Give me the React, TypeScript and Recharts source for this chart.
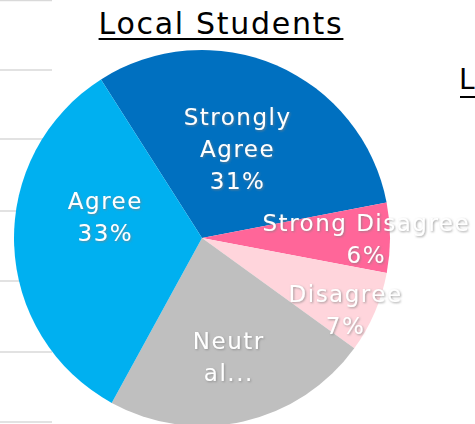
import { PieChart, Pie, Cell } from 'recharts'

const categories = ['Strongly Agree', 'Strong Disagree', 'Disagree', 'Neutral', 'Agree']
const shares = [31, 6, 7, 23, 33]
const labelLines = [['Strongly', 'Agree'], ['Strong Disagree'], ['Disagree'], ['Neutr', 'al...'], ['Agree']]
const showPct = [true, true, true, false, true]
const colors = ['#0070C0', '#FF6699', '#FFD5DC', '#BFBFBF', '#00B0F0']

const data = categories.map((name, i) => ({ name, value: shares[i] }))

// where the labels sit: fraction of radius, nudge in degrees
const labelSpots = [[0.51, 2], [0.87, -0.5], [0.85, -3.4], [0.65, -0.4], [0.53, -14]]

// stray pieces of the neighbouring charts
const gridYs = [0.5, 70, 139, 211, 281, 352, 422]

const FONT = '"DejaVu Sans", sans-serif'

const renderLabel = (p: any) => {
  const i = p.index
  const [frac, nudge] = labelSpots[i]
  const a = ((p.midAngle + nudge) * Math.PI) / 180
  const r = p.outerRadius * frac
  const x = p.cx + r * Math.cos(a) + 0.8
  const y = p.cy - r * Math.sin(a)
  const lines = showPct[i] ? [...labelLines[i], `${shares[i]}%`] : labelLines[i]
  const top = y - (lines.length - 1) * 16
  return (
    <text x={x} y={top} textAnchor="middle" fill="#fff" fontSize={23} letterSpacing={1.5} fontFamily={FONT} filter="url(#lblShadow)">
      {lines.map((l, k) => (
        <tspan key={k} x={x} y={top + k * 32} dominantBaseline="central">{l}</tspan>
      ))}
    </text>
  )
}

export default function App() {
  return (
    <div style={{ position: 'fixed', left: 0, top: 0, width: 475, height: 424, overflow: 'hidden', background: '#fff' }}>
      <svg width={475} height={424} style={{ position: 'absolute', left: 0, top: 0 }}>
        <defs>
          <filter id="lblShadow" x="-20%" y="-40%" width="140%" height="180%">
            <feDropShadow dx="1" dy="1" stdDeviation="1.2" floodColor="#7f7f7f" floodOpacity="0.7" />
          </filter>
        </defs>
        {gridYs.map(y => (
          <line key={y} x1={0} x2={52} y1={y} y2={y} stroke="#D9D9D9" strokeWidth={1.5} />
        ))}
        <circle cx={664} cy={311} r={188} fill="#00B0F0" />
        <line x1={460} x2={475} y1={97} y2={97} stroke="#000" strokeWidth={2} />
      </svg>
      <div style={{ position: 'absolute', left: 0, top: 6, width: 442, textAlign: 'center', fontFamily: FONT, fontSize: 30, letterSpacing: 1.7, color: '#000', textDecoration: 'underline', textDecorationThickness: 2, textUnderlineOffset: 4, whiteSpace: 'nowrap' }}>
        Local Students
      </div>
      <div style={{ position: 'absolute', left: 459, top: 63, fontFamily: FONT, fontSize: 28, color: '#000', lineHeight: 1.2 }}>
        L
      </div>
      <div style={{ position: 'absolute', left: 0, top: 0 }}>
        <PieChart width={475} height={424} margin={{ top: 0, right: 0, bottom: 0, left: 0 }}>
          <Pie
            data={data}
            dataKey="value"
            nameKey="name"
            cx={202}
            cy={238}
            outerRadius={188}
            startAngle={122.5}
            endAngle={-237.5}
            stroke="none"
            label={renderLabel}
            labelLine={false}
            isAnimationActive={false}
          >
            {data.map((d, i) => (
              <Cell key={d.name} fill={colors[i]} />
            ))}
          </Pie>
        </PieChart>
      </div>
    </div>
  )
}
